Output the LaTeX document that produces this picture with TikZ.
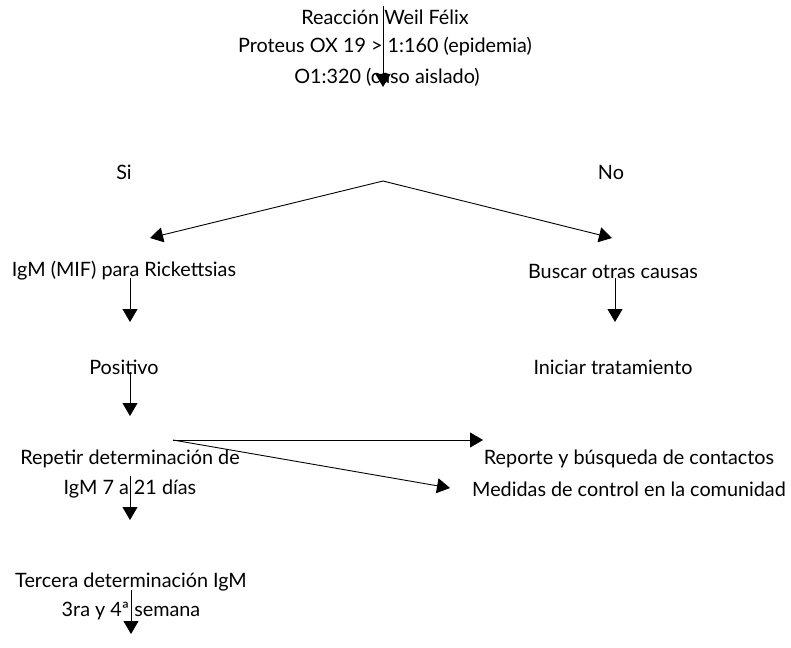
\documentclass[tikz,border=0pt]{standalone}
\usepackage{fontspec}
\setmainfont{Lato}
\usetikzlibrary{arrows.meta}
\begin{document}
\begin{tikzpicture}[x=1pt,y=-1pt,
  lbl/.style={inner sep=0pt,align=center,font=\fontsize{19.8}{30}\selectfont},
  arr/.style={line width=0.9pt,-{Triangle[width=15pt,length=13pt]}}]
\useasboundingbox (0,0) rectangle (791,647);
\node[lbl] (t1) at (385,17) {Reacción Weil Félix};
\node[lbl] (t2) at (385,47) {Proteus OX 19 > 1:160 (epidemia)};
\node[lbl] (t3) at (387,77) {O1:320 (caso aislado)};
\node[lbl] (si) at (124,172) {Si};
\node[lbl] (no) at (611,172) {No};
\node[lbl] (igm) at (124,271) {IgM (MIF) para Rickettsias};
\node[lbl] (bus) at (613,271) {Buscar otras causas};
\node[lbl] (pos) at (124,367) {Positivo};
\node[lbl] (ini) at (613,367) {Iniciar tratamiento};
\node[lbl] (rep1) at (130,459) {Repetir determinación de};
\node[lbl] (rep2) at (130,489) {IgM 7 a 21 días};
\node[lbl] (rb1) at (629,459) {Reporte y búsqueda de contactos};
\node[lbl] (rb2) at (629,489) {Medidas de control en la comunidad};
\node[lbl] (ter1) at (131,582) {Tercera determinación IgM};
\node[lbl] (ter2) at (131,611) {3ra y 4ª semana};
\coordinate (a0) at (383,6);   \coordinate (a1) at (383,87);
\coordinate (ap) at (383,181);
\coordinate (lt) at (150,238); \coordinate (rt) at (612,238);
\coordinate (b0) at (130,278); \coordinate (b1) at (130,322);
\coordinate (c0) at (615,278); \coordinate (c1) at (615,322);
\coordinate (d0) at (130,372); \coordinate (d1) at (130,416);
\coordinate (e0) at (173,440); \coordinate (e1) at (483,440);
\coordinate (e2) at (450,488);
\coordinate (f0) at (130,476); \coordinate (f1) at (130,520);
\coordinate (g0) at (131,590); \coordinate (g1) at (131,634);
\draw[arr] (a0) -- (a1);
\draw[arr] (ap) -- (lt);
\draw[arr] (ap) -- (rt);
\draw[arr] (b0) -- (b1);
\draw[arr] (c0) -- (c1);
\draw[arr] (d0) -- (d1);
\draw[arr] (e0) -- (e1);
\draw[arr] (e0) -- (e2);
\draw[arr] (f0) -- (f1);
\draw[arr] (g0) -- (g1);
\end{tikzpicture}
\end{document}
